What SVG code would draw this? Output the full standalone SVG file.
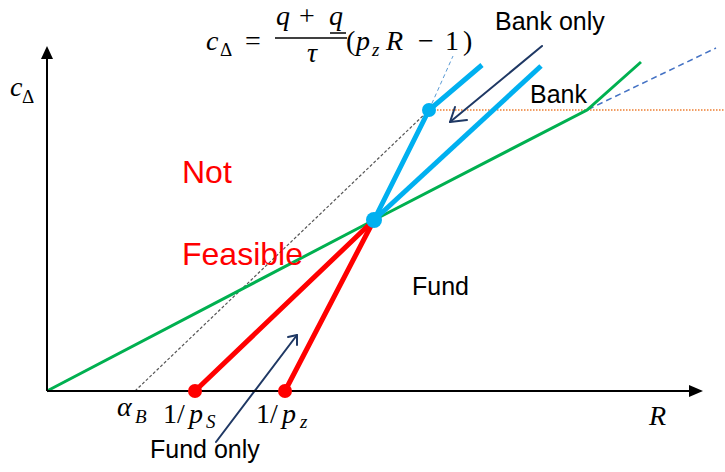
<svg xmlns="http://www.w3.org/2000/svg" width="725" height="472" viewBox="0 0 725 472">
<defs>
<style>
.axis{stroke:#000;stroke-width:2;fill:none}
.red{stroke:#ff0000;stroke-width:5;fill:none;stroke-linecap:round}
.blue{stroke:#00b0f0;stroke-width:5;fill:none;stroke-linecap:butt}
.green{stroke:#00b050;stroke-width:3;fill:none}
.bdash{stroke:#4472c4;stroke-width:1.5;fill:none;stroke-dasharray:6 4}
.ldash{stroke:#5b9bd5;stroke-width:1;fill:none;stroke-dasharray:4 3}
.kdot{stroke:#555;stroke-width:1.2;fill:none;stroke-dasharray:3 2}
.odot{stroke:#ed7d31;stroke-width:1.5;fill:none;stroke-dasharray:1.5 1.5}
.navy{stroke:#1f3864;stroke-width:2;fill:none;stroke-linecap:round;stroke-linejoin:round}
.lab{font-family:"Liberation Sans",Arial,sans-serif;font-size:25px;fill:#000}
.redt{font-family:"Liberation Sans",Arial,sans-serif;font-size:32px;fill:#ff0000}
.m{font-family:"Liberation Serif","Times New Roman",serif;font-size:28px;fill:#000}
.mi{font-family:"Liberation Serif","Times New Roman",serif;font-size:28px;font-style:italic;fill:#000}
.ms{font-family:"Liberation Serif","Times New Roman",serif;font-size:19px;fill:#000}
.msi{font-family:"Liberation Serif","Times New Roman",serif;font-size:19px;font-style:italic;fill:#000}
</style>
</defs>
<g id="connectors">
<line class="kdot" x1="135" y1="391" x2="429" y2="110"/>
<polyline class="bdash" points="47,391 374,220 587,110 716,48"/>
<line class="ldash" x1="429" y1="110" x2="453" y2="56"/>
<line class="odot" x1="437" y1="110" x2="725" y2="110"/>
<polyline class="green" points="47,391 374,220 587,110 641,62"/>
<line class="red" x1="195" y1="391" x2="374" y2="220"/>
<line class="red" x1="285" y1="391" x2="374" y2="220"/>
<polyline class="blue" points="374,220 429,110 482,65"/>
<line class="blue" x1="374" y1="220" x2="541" y2="66"/>
<line class="navy" x1="542" y1="46" x2="450" y2="122"/>
<polyline class="navy" points="455,107 450,122 467,120"/>
<line class="navy" x1="216" y1="442" x2="297" y2="335"/>
<polyline class="navy" points="288,337 297,335 297,345"/>
</g>
<g id="axes">
<line class="axis" x1="47" y1="391" x2="47" y2="56"/>
<polygon points="47,46 41,59 53,59" fill="#000"/>
<line class="axis" x1="47" y1="391" x2="690" y2="391"/>
<polygon points="703,391 689,385 689,397" fill="#000"/>
</g>
<g id="points">
<circle cx="195" cy="391" r="7" fill="#ff0000"/>
<circle cx="285" cy="391" r="7" fill="#ff0000"/>
<circle cx="374" cy="220" r="8" fill="#00b0f0"/>
<circle cx="429" cy="110" r="7" fill="#00b0f0"/>
</g>
<g id="labels">
<text class="mi" x="10" y="96">c</text><text class="ms" x="22" y="103">Δ</text>
<text class="mi" x="206" y="50">c</text><text class="ms" x="220" y="56">Δ</text>
<text class="m" x="245" y="50">=</text>
<text class="mi" x="276" y="25">q</text>
<text class="m" x="299" y="25">+</text>
<text class="mi" x="329" y="25">q</text>
<line x1="330" y1="33" x2="346" y2="33" stroke="#000" stroke-width="1.5"/>
<line x1="275" y1="38" x2="347" y2="38" stroke="#000" stroke-width="1.5"/>
<text class="mi" x="307" y="62">τ</text>
<text class="m" x="346" y="50">(</text>
<text class="mi" x="356" y="50">p</text>
<text class="msi" x="372" y="56">z</text>
<text class="mi" x="386" y="50">R</text>
<text class="m" x="418" y="50">−</text>
<text class="m" x="445" y="50">1</text>
<text class="m" x="463" y="50">)</text>
<text class="lab" x="495" y="30">Bank only</text>
<text class="lab" x="530" y="103">Bank</text>
<text class="redt" x="182" y="183">Not</text>
<text class="redt" x="182" y="265">Feasible</text>
<text class="lab" x="412" y="295">Fund</text>
<text class="mi" x="117" y="416">α</text><text class="msi" x="135" y="423">B</text>
<text class="m" x="163" y="423">1</text><text class="m" x="177" y="423">/</text><text class="mi" x="189" y="423">p</text><text class="msi" x="206" y="428">S</text>
<text class="m" x="256" y="423">1</text><text class="m" x="270" y="423">/</text><text class="mi" x="282" y="423">p</text><text class="msi" x="300" y="428">z</text>
<text class="mi" x="649" y="425">R</text>
<text class="lab" x="150" y="458">Fund only</text>
</g>
</svg>
